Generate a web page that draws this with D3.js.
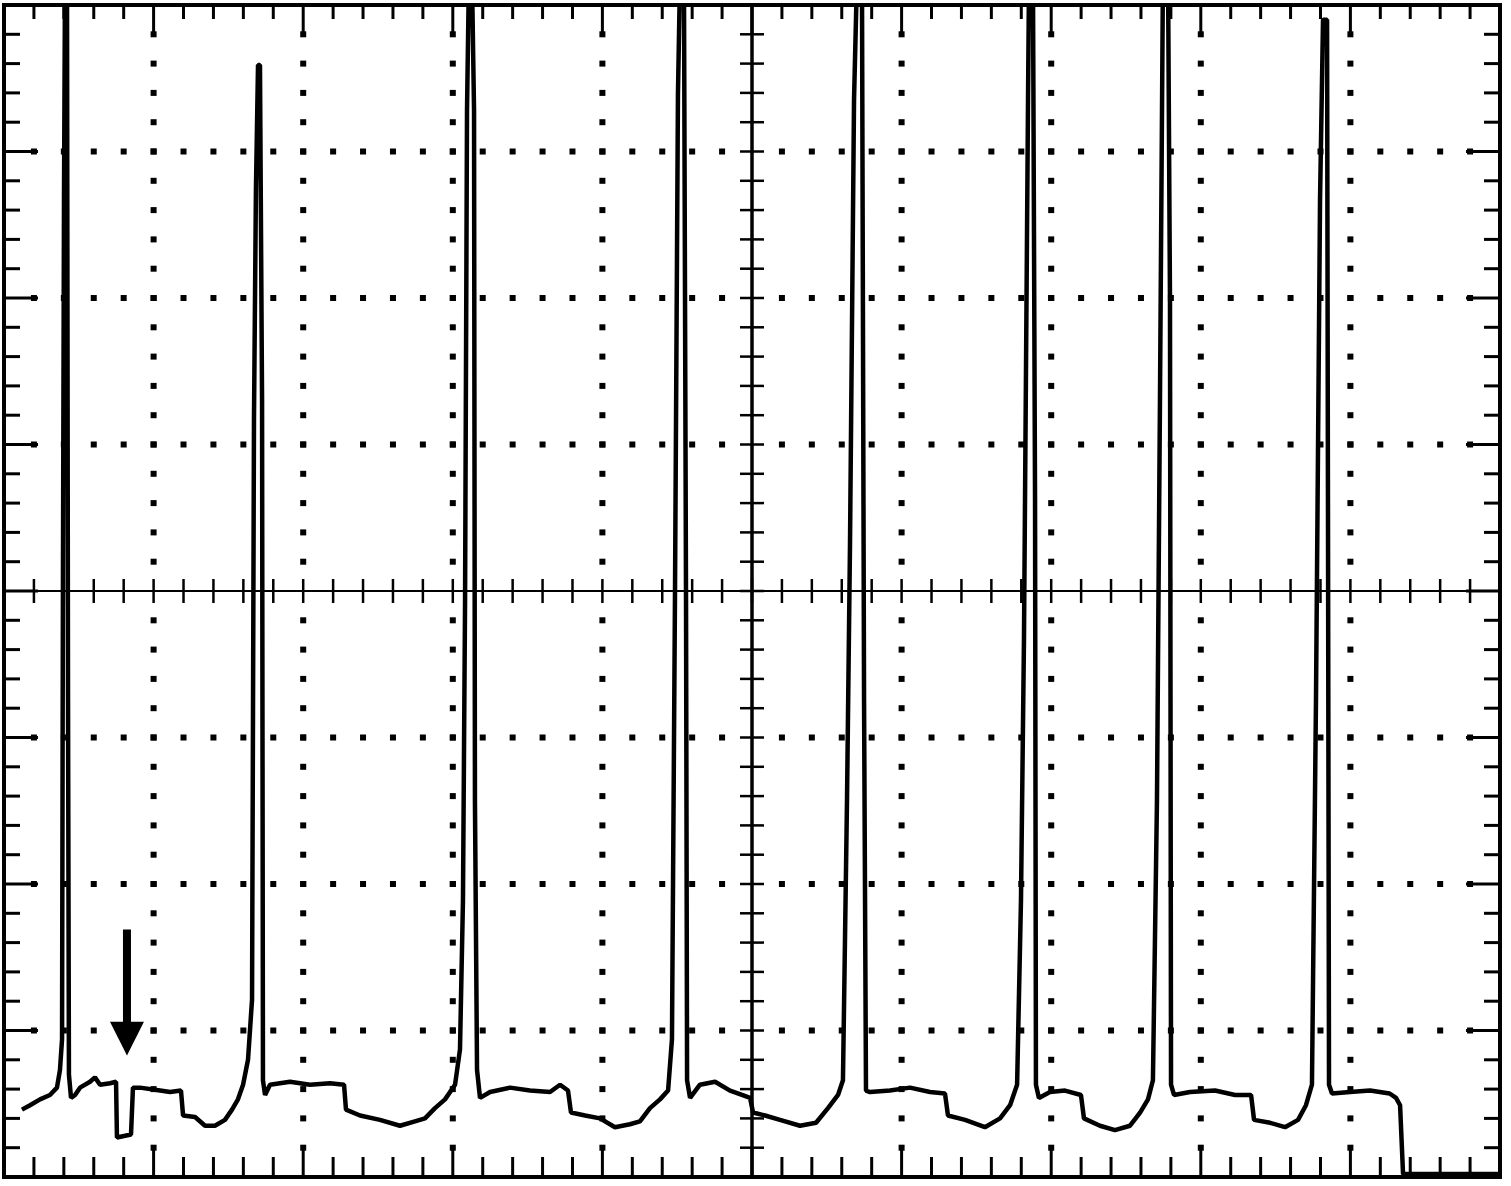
<!DOCTYPE html>
<html>
<head>
<meta charset="utf-8">
<script src="https://cdn.jsdelivr.net/npm/d3@7"></script>
<style>
  body { margin: 0; background: #fff; }
  svg { display: block; }
</style>
</head>
<body>
<svg id="chart"></svg>
<script>
// scope screen: 10 x 8 divisions, trace (div units)
var timeDivs = [0, 10],
    voltDivs = [-4, 4];

var traceT = [
  0.120, 0.174, 0.241, 0.307, 0.354,
  0.374, 0.388, 0.394, 0.401, 0.408, 0.421, 0.428, 0.434, 0.448, 0.475, 0.508, 0.575, 0.608, 0.642, 0.709, 0.749,
  0.755, 0.849, 0.862, 0.909, 1.043, 1.110, 1.183,
  1.197, 1.277, 1.344, 1.410, 1.477, 1.524, 1.564, 1.598, 1.631,
  1.658, 1.671, 1.684, 1.698, 1.711, 1.725, 1.731, 1.745, 1.778, 1.912, 2.045, 2.179, 2.273,
  2.286, 2.380, 2.513, 2.647, 2.747, 2.814, 2.881, 2.948, 3.015, 3.048,
  3.068, 3.082, 3.095, 3.108, 3.128, 3.142, 3.148, 3.162, 3.182, 3.249, 3.382, 3.516, 3.650, 3.717, 3.770,
  3.790, 3.884, 3.984, 4.084, 4.184, 4.251, 4.318, 4.385, 4.439,
  4.465, 4.485, 4.505, 4.519, 4.545, 4.559, 4.566, 4.586, 4.652, 4.753, 4.853, 4.933, 4.987,
  5.007, 5.087, 5.187, 5.321, 5.428, 5.508, 5.575, 5.608,
  5.635, 5.655, 5.682, 5.702, 5.735, 5.749, 5.762, 5.789, 5.922, 6.056, 6.190, 6.290,
  6.310, 6.424, 6.557, 6.658, 6.725, 6.772,
  6.798, 6.818, 6.845, 6.852, 6.878, 6.892, 6.898, 6.918, 6.992, 7.092, 7.199,
  7.219, 7.326, 7.426, 7.527, 7.594, 7.647, 7.680,
  7.707, 7.727, 7.747, 7.781, 7.794, 7.801, 7.821, 7.928, 8.095, 8.229, 8.336,
  8.356, 8.463, 8.563, 8.650, 8.703, 8.743,
  8.770, 8.797, 8.817, 8.844, 8.850, 8.857, 8.877, 8.997, 9.131, 9.262, 9.305, 9.332, 9.352, 10.0
];

var traceV = [
  -3.54, -3.51, -3.47, -3.44, -3.39,
  -3.27, -3.06, 0.08, 2.67, 4.2, 4.2, -0.74, -3.30, -3.46, -3.44, -3.39, -3.35, -3.32, -3.37, -3.36, -3.35,
  -3.73, -3.71, -3.39, -3.39, -3.41, -3.42, -3.41,
  -3.58, -3.59, -3.65, -3.65, -3.61, -3.54, -3.47, -3.37, -3.20,
  -2.79, 1.17, 2.74, 3.59, 3.59, 1.30, -3.34, -3.44, -3.37, -3.35, -3.37, -3.36, -3.37,
  -3.54, -3.58, -3.61, -3.65, -3.62, -3.60, -3.53, -3.47, -3.37, -3.13,
  -2.11, -0.06, 3.28, 4.2, 4.2, 3.28, -1.43, -3.27, -3.46, -3.42, -3.39, -3.41, -3.42, -3.37, -3.41,
  -3.56, -3.58, -3.60, -3.66, -3.64, -3.62, -3.53, -3.47, -3.41,
  -3.06, -0.06, 3.39, 4.2, 4.2, -0.06, -3.34, -3.46, -3.37, -3.35, -3.41, -3.44, -3.46,
  -3.56, -3.58, -3.61, -3.65, -3.63, -3.53, -3.44, -3.34,
  -1.43, 0.31, 3.35, 4.2, 4.2, -0.74, -3.41, -3.42, -3.41, -3.39, -3.42, -3.43,
  -3.58, -3.61, -3.66, -3.60, -3.51, -3.37,
  -2.11, -0.33, 3.35, 4.2, 4.2, 0.62, -3.37, -3.46, -3.42, -3.41, -3.44,
  -3.60, -3.65, -3.68, -3.65, -3.56, -3.47, -3.34,
  -1.43, 1.30, 4.2, 4.2, 1.99, -3.37, -3.44, -3.42, -3.41, -3.44, -3.44,
  -3.61, -3.63, -3.66, -3.61, -3.51, -3.37,
  -0.74, 2.67, 3.90, 3.90, 0.62, -3.37, -3.43, -3.42, -3.41, -3.43, -3.46, -3.51, -3.98, -3.98
];

// marker arrow (time position, top of shaft, base of head, tip)
var arrowT = [0.822],
    arrowV = [-2.31, -2.94, -3.17];

var svg = d3.select("#chart")
    .attr("width", 1511)
    .attr("height", 1186);

var x = d3.scaleLinear().domain(timeDivs).range([4, 1500]),
    y = d3.scaleLinear().domain(voltDivs).range([1177, 5]);

var minorT = d3.range(0, 51).map(function (i) { return i / 5; }),
    minorV = d3.range(-20, 21).map(function (i) { return i / 5; }),
    majorT = d3.range(1, 10),
    majorV = d3.range(-3, 4);

function isMajor(v) { return Math.abs(v - Math.round(v)) < 1e-6; }

var g = svg.append("g").attr("stroke", "#000").attr("fill", "#000");

// dotted graticule
var dots = [];
majorT.forEach(function (t) {
    if (t === 5) return;
    minorV.forEach(function (v) {
        if (Math.abs(v) < 1e-6 || Math.abs(v) > 3.9) return;
        dots.push([t, v]);
    });
});
majorV.forEach(function (v) {
    if (v === 0) return;
    minorT.forEach(function (t) {
        if (Math.abs(t - 5) < 1e-6 || t < 0.1 || t > 9.9) return;
        dots.push([t, v]);
    });
});
g.append("g").selectAll("rect").data(dots).enter().append("rect")
    .attr("stroke", "none")
    .attr("x", function (d) { return x(d[0]) - 3; })
    .attr("y", function (d) { return y(d[1]) - 3; })
    .attr("width", 6)
    .attr("height", 6);

// centre lines with their ticks
g.append("line")
    .attr("x1", x(0)).attr("x2", x(10))
    .attr("y1", y(0)).attr("y2", y(0))
    .attr("stroke-width", 2);
g.append("line")
    .attr("x1", x(5)).attr("x2", x(5))
    .attr("y1", y(4)).attr("y2", y(-4))
    .attr("stroke-width", 3.5);

g.append("g").selectAll("line").data(minorT.filter(function (t) { return t > 0.1 && t < 9.9; }))
    .enter().append("line")
    .attr("stroke-width", 2.5)
    .attr("x1", function (d) { return x(d); }).attr("x2", function (d) { return x(d); })
    .attr("y1", y(0) - 12).attr("y2", y(0) + 12);

g.append("g").selectAll("line").data(minorV.filter(function (v) { return Math.abs(v) < 3.9; }))
    .enter().append("line")
    .attr("stroke-width", 2.5)
    .attr("y1", function (d) { return y(d); }).attr("y2", function (d) { return y(d); })
    .attr("x1", x(5) - 12).attr("x2", x(5) + 12);

// edge ticks
var edge = g.append("g").attr("stroke-width", 3);
edge.selectAll(".tTop").data(minorT.filter(function (t) { return t > 0.1 && t < 9.9; }))
    .enter().append("line").attr("class", "tTop")
    .attr("x1", function (d) { return x(d); }).attr("x2", function (d) { return x(d); })
    .attr("y1", y(4)).attr("y2", function (d) { return y(4) + (isMajor(d) ? 28 : 14); });
edge.selectAll(".tBot").data(minorT.filter(function (t) { return t > 0.1 && t < 9.9; }))
    .enter().append("line").attr("class", "tBot")
    .attr("x1", function (d) { return x(d); }).attr("x2", function (d) { return x(d); })
    .attr("y1", y(-4)).attr("y2", function (d) { return y(-4) - (isMajor(d) ? 30 : 20); });
edge.selectAll(".tLeft").data(minorV.filter(function (v) { return Math.abs(v) < 3.9; }))
    .enter().append("line").attr("class", "tLeft")
    .attr("y1", function (d) { return y(d); }).attr("y2", function (d) { return y(d); })
    .attr("x1", x(0)).attr("x2", function (d) { return x(0) + (isMajor(d) ? 34 : 16); });
edge.selectAll(".tRight").data(minorV.filter(function (v) { return Math.abs(v) < 3.9; }))
    .enter().append("line").attr("class", "tRight")
    .attr("y1", function (d) { return y(d); }).attr("y2", function (d) { return y(d); })
    .attr("x1", x(10)).attr("x2", function (d) { return x(10) - (isMajor(d) ? 34 : 16); });

// frame
g.append("rect")
    .attr("fill", "none")
    .attr("stroke-width", 4)
    .attr("x", x(0)).attr("y", y(4))
    .attr("width", x(10) - x(0))
    .attr("height", y(-4) - y(4));

svg.append("defs").append("clipPath").attr("id", "screen")
    .append("rect")
    .attr("x", x(0)).attr("y", y(4))
    .attr("width", x(10) - x(0))
    .attr("height", y(-4) - y(4));

// trace
var trace = traceT.map(function (t, i) { return { t: t, v: traceV[i] }; });
var line = d3.line()
    .x(function (d) { return x(d.t); })
    .y(function (d) { return y(d.v); });

svg.append("path")
    .datum(trace)
    .attr("clip-path", "url(#screen)")
    .attr("fill", "none")
    .attr("stroke", "#000")
    .attr("stroke-width", 4.5)
    .attr("stroke-linejoin", "bevel")
    .attr("d", line);

// arrow marker
var ax = x(arrowT[0]), half = 17;
svg.append("line")
    .attr("x1", ax).attr("x2", ax)
    .attr("y1", y(arrowV[0])).attr("y2", y(arrowV[1]) + 2)
    .attr("stroke", "#000")
    .attr("stroke-width", 8);
svg.append("path")
    .attr("fill", "#000")
    .attr("d", "M" + (ax - half) + "," + y(arrowV[1]) +
               "L" + (ax + half) + "," + y(arrowV[1]) +
               "L" + ax + "," + y(arrowV[2]) + "Z");
</script>
</body>
</html>
